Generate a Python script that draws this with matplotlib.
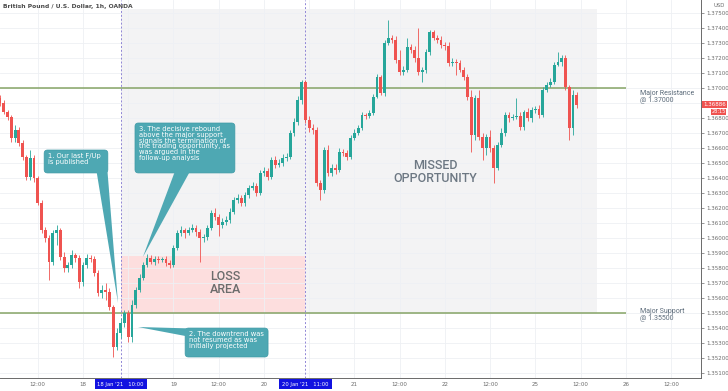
import numpy as np
import matplotlib
matplotlib.use('Agg')
import matplotlib.pyplot as plt
from matplotlib.patches import FancyBboxPatch, Polygon, Rectangle
from matplotlib.transforms import blended_transform_factory

# Data ---------------------------------------------------------------
# hour index on the chart's time axis (0 = Fri 15 Jan 2021 00:00, weekend removed)
hours = np.arange(2, 156)

opens = [1.36935, 1.36900, 1.36840, 1.36805, 1.36665, 1.36720, 1.36635, 1.36540, 1.36405, 1.36535,
         1.36400, 1.36235, 1.36055, 1.36000, 1.35840, 1.36035, 1.36055, 1.35875, 1.35800, 1.35820,
         1.35885, 1.35865, 1.35705, 1.35820, 1.35865, 1.35860, 1.35765, 1.35635, 1.35655, 1.35640,
         1.35540, 1.35275, 1.35365, 1.35435, 1.35500, 1.35340, 1.35555, 1.35655, 1.35735, 1.35820,
         1.35865, 1.35840, 1.35860, 1.35855, 1.35860, 1.35835, 1.35820, 1.35935, 1.36035, 1.36055,
         1.36035, 1.36055, 1.36065, 1.36040, 1.36000, 1.36005, 1.36065, 1.36165, 1.36140, 1.36085,
         1.36105, 1.36120, 1.36175, 1.36255, 1.36265, 1.36235, 1.36285, 1.36335, 1.36345, 1.36300,
         1.36435, 1.36445, 1.36405, 1.36520, 1.36485, 1.36500, 1.36535, 1.36540, 1.36700, 1.36775,
         1.36920, 1.37040, 1.36785, 1.36735, 1.36720, 1.36365, 1.36320, 1.36585, 1.36435, 1.36465,
         1.36455, 1.36575, 1.36565, 1.36540, 1.36665, 1.36700, 1.36735, 1.36820, 1.36815, 1.36835,
         1.36940, 1.37075, 1.36965, 1.37300, 1.37335, 1.37320, 1.37185, 1.37105, 1.37120, 1.37275,
         1.37255, 1.37200, 1.37105, 1.37120, 1.37240, 1.37375, 1.37335, 1.37320, 1.37285, 1.37280,
         1.37165, 1.37175, 1.37170, 1.37120, 1.37075, 1.36940, 1.36685, 1.36935, 1.36675, 1.36600,
         1.36675, 1.36600, 1.36465, 1.36620, 1.36700, 1.36820, 1.36800, 1.36805, 1.36815, 1.36740,
         1.36840, 1.36800, 1.36855, 1.36860, 1.36820, 1.36985, 1.37020, 1.37040, 1.37155, 1.37175,
         1.37200, 1.37005, 1.36735, 1.36955]

closes = [1.36900, 1.36840, 1.36805, 1.36665, 1.36720, 1.36635, 1.36540, 1.36405, 1.36535, 1.36400,
          1.36235, 1.36055, 1.36000, 1.35840, 1.36035, 1.36055, 1.35875, 1.35800, 1.35820, 1.35885,
          1.35865, 1.35705, 1.35820, 1.35865, 1.35860, 1.35765, 1.35635, 1.35655, 1.35640, 1.35540,
          1.35275, 1.35365, 1.35435, 1.35500, 1.35340, 1.35555, 1.35655, 1.35735, 1.35820, 1.35865,
          1.35840, 1.35860, 1.35855, 1.35860, 1.35835, 1.35820, 1.35935, 1.36035, 1.36055, 1.36035,
          1.36055, 1.36065, 1.36040, 1.36000, 1.36005, 1.36065, 1.36165, 1.36140, 1.36085, 1.36105,
          1.36120, 1.36175, 1.36255, 1.36265, 1.36235, 1.36285, 1.36335, 1.36345, 1.36300, 1.36435,
          1.36445, 1.36405, 1.36520, 1.36485, 1.36500, 1.36535, 1.36540, 1.36700, 1.36775, 1.36920,
          1.37040, 1.36785, 1.36735, 1.36720, 1.36365, 1.36320, 1.36585, 1.36435, 1.36465, 1.36455,
          1.36575, 1.36565, 1.36540, 1.36665, 1.36700, 1.36735, 1.36820, 1.36815, 1.36835, 1.36940,
          1.37075, 1.36965, 1.37300, 1.37335, 1.37320, 1.37185, 1.37105, 1.37120, 1.37275, 1.37255,
          1.37200, 1.37105, 1.37120, 1.37240, 1.37375, 1.37335, 1.37320, 1.37285, 1.37280, 1.37165,
          1.37175, 1.37170, 1.37120, 1.37075, 1.36940, 1.36685, 1.36935, 1.36675, 1.36600, 1.36675,
          1.36600, 1.36465, 1.36620, 1.36700, 1.36820, 1.36800, 1.36805, 1.36815, 1.36740, 1.36840,
          1.36800, 1.36855, 1.36860, 1.36820, 1.36985, 1.37020, 1.37040, 1.37155, 1.37175, 1.37200,
          1.37005, 1.36735, 1.36955, 1.36886]

highs = [1.36955, 1.36920, 1.36855, 1.36820, 1.36755, 1.36740, 1.36655, 1.36555, 1.36585, 1.36555,
         1.36415, 1.36255, 1.36075, 1.36020, 1.36055, 1.36085, 1.36065, 1.35905, 1.35840, 1.35920,
         1.35900, 1.35885, 1.35840, 1.35895, 1.35885, 1.35880, 1.35785, 1.35685, 1.35700, 1.35665,
         1.35555, 1.35400, 1.35465, 1.35520, 1.35520, 1.35585, 1.35675, 1.35760, 1.35840, 1.35895,
         1.35885, 1.35880, 1.35880, 1.35875, 1.35880, 1.35855, 1.35955, 1.36055, 1.36080, 1.36065,
         1.36075, 1.36095, 1.36085, 1.36060, 1.36025, 1.36085, 1.36185, 1.36200, 1.36160, 1.36135,
         1.36145, 1.36200, 1.36275, 1.36295, 1.36285, 1.36305, 1.36355, 1.36375, 1.36365, 1.36455,
         1.36475, 1.36465, 1.36540, 1.36545, 1.36525, 1.36560, 1.36565, 1.36720, 1.36800, 1.36945,
         1.37055, 1.37055, 1.36815, 1.36760, 1.36740, 1.36385, 1.36605, 1.36620, 1.36495, 1.36495,
         1.36600, 1.36595, 1.36585, 1.36685, 1.36725, 1.36755, 1.36840, 1.36835, 1.36855, 1.36960,
         1.37095, 1.37085, 1.37320, 1.37455, 1.37355, 1.37345, 1.37255, 1.37145, 1.37335, 1.37295,
         1.37280, 1.37400, 1.37140, 1.37260, 1.37385, 1.37385, 1.37355, 1.37345, 1.37305, 1.37305,
         1.37200, 1.37195, 1.37185, 1.37140, 1.37095, 1.36985, 1.36955, 1.36985, 1.36700, 1.36695,
         1.36720, 1.36620, 1.36640, 1.36735, 1.36840, 1.36840, 1.36825, 1.36935, 1.36840, 1.36855,
         1.36865, 1.36875, 1.36880, 1.36885, 1.37005, 1.37040, 1.37065, 1.37175, 1.37240, 1.37220,
         1.37220, 1.37020, 1.36985, 1.36975]

lows = [1.36880, 1.36825, 1.36785, 1.36640, 1.36640, 1.36615, 1.36520, 1.36385, 1.36385, 1.36375,
        1.36220, 1.36035, 1.35975, 1.35720, 1.35820, 1.35955, 1.35855, 1.35775, 1.35775, 1.35800,
        1.35840, 1.35665, 1.35680, 1.35800, 1.35840, 1.35745, 1.35615, 1.35600, 1.35585, 1.35520,
        1.35205, 1.35255, 1.35335, 1.35405, 1.35305, 1.35305, 1.35535, 1.35640, 1.35720, 1.35805,
        1.35825, 1.35820, 1.35835, 1.35840, 1.35815, 1.35800, 1.35805, 1.35920, 1.36015, 1.36000,
        1.36020, 1.36040, 1.36015, 1.35840, 1.35975, 1.35985, 1.36055, 1.36120, 1.36015, 1.36065,
        1.36085, 1.36100, 1.36160, 1.36235, 1.36215, 1.36215, 1.36265, 1.36320, 1.36280, 1.36285,
        1.36415, 1.36385, 1.36395, 1.36465, 1.36475, 1.36480, 1.36515, 1.36525, 1.36680, 1.36755,
        1.36895, 1.36765, 1.36705, 1.36695, 1.36345, 1.36255, 1.36300, 1.36415, 1.36415, 1.36425,
        1.36440, 1.36545, 1.36520, 1.36525, 1.36655, 1.36685, 1.36720, 1.36795, 1.36800, 1.36820,
        1.36935, 1.36955, 1.36945, 1.37285, 1.37300, 1.37165, 1.37085, 1.37085, 1.37105, 1.37235,
        1.37175, 1.37085, 1.37040, 1.37100, 1.37220, 1.37320, 1.37300, 1.37265, 1.37255, 1.37145,
        1.37145, 1.37085, 1.37105, 1.37055, 1.36920, 1.36575, 1.36655, 1.36655, 1.36520, 1.36555,
        1.36575, 1.36365, 1.36455, 1.36605, 1.36680, 1.36775, 1.36785, 1.36795, 1.36720, 1.36720,
        1.36780, 1.36775, 1.36835, 1.36800, 1.36805, 1.36975, 1.37005, 1.37025, 1.37145, 1.37145,
        1.36985, 1.36655, 1.36685, 1.36865]

tick_hours = [12, 24, 36, 48, 60, 72, 84, 96, 108, 120, 132, 144, 156, 168, 180]
tick_labels = ['12:00', '18', '12:00', '19', '12:00', '20', '12:00', '21', '12:00', '22',
               '12:00', '25', '12:00', '26', '12:00']
hidden_ticks = [36, 84]                 # covered by the date markers

marker_hours = [34, 83]
marker_labels = ["18 Jan '21   10:00", "20 Jan '21   11:00"]

resistance = 1.37000
support = 1.35500
loss_top = 1.35880
zone_top = 1.37527
zone_end = 160.3
level_end = 168.1
last_price = 1.36886

# Figure ---------------------------------------------------------------
GREEN = '#26a69a'
RED = '#ef5350'
TEAL = '#4ea8b3'

fig = plt.figure(figsize=(7.28, 3.91), dpi=100)
ax = fig.add_axes([0, 13 / 391, 701 / 728, 378 / 391])
ax.set_xlim(1.99, 187.95)
ax.set_ylim(1.35067, 1.37587)

# shaded zones
ax.add_patch(Rectangle((marker_hours[0], support), zone_end - marker_hours[0], zone_top - support,
                       fc='#f3f3f4', ec='none', zorder=0.2))
ax.add_patch(Rectangle((marker_hours[0], support), marker_hours[1] - marker_hours[0], loss_top - support,
                       fc='#fddede', ec='none', zorder=0.3))

# grid
yt = np.arange(1.351, 1.3755, 0.001)
ax.set_yticks(yt)
# the 1.36900 label sits under the live price tag
ax.set_yticklabels(['' if abs(v - 1.369) < 1e-6 else '%.5f' % v for v in yt])
ax.set_xticks(tick_hours)
ax.set_xticklabels(['' if h in hidden_ticks else l for h, l in zip(tick_hours, tick_labels)])
ax.grid(True, color='#eef0f4', lw=0.6)
ax.set_axisbelow(True)

# support / resistance
ax.hlines([resistance, support], 1.99, level_end, color='#86a466', lw=1.1, zorder=1)

# date markers
for h in marker_hours:
    ax.axvline(h, color='#8f86d6', lw=0.7, ls=(0, (2, 2)), zorder=1)

# candles
o = np.array(opens)
c = np.array(closes)
colors = [GREEN if cc >= oo else RED for oo, cc in zip(o, c)]
ax.vlines(hours, lows, highs, colors=colors, lw=0.6, zorder=3)
body = np.maximum(np.abs(c - o), 0.00003)
ax.bar(hours, body, bottom=np.minimum(o, c), width=0.74, color=colors, lw=0, zorder=3)

# text labels in the chart
ax.text(57.7, 1.3570, 'LOSS\nAREA', fontsize=9, family='Roboto', weight='medium',
        color='#6c6c6c', ha='left', va='center', linespacing=1.0, zorder=4)
ax.text(117.4, 1.3644, 'MISSED\nOPPORTUNITY', fontsize=9, family='Roboto', weight='medium',
        color='#6d7883', ha='center', va='center', linespacing=1.0, zorder=4)
ax.text(171.8, resistance - 0.0006, 'Major Resistance\n@ 1.37000', fontsize=5, family='Roboto',
        color='#5c6b7a', ha='left', va='center', linespacing=0.95, zorder=4)
ax.text(171.8, support - 0.00015, 'Major Support\n@ 1.35500', fontsize=5, family='Roboto',
        color='#5c6b7a', ha='left', va='center', linespacing=0.95, zorder=4)

# callouts
ASPECT = 3.77 / 15000


def callout(box, pointer, text):
    t0, p0, t1, p1 = box
    ax.add_patch(FancyBboxPatch((t0, p0), t1 - t0, p1 - p0,
                                boxstyle='round,pad=0,rounding_size=0.9',
                                mutation_aspect=ASPECT, fc=TEAL, ec='#3f9aa6', lw=0.5, zorder=5))
    ax.add_patch(Polygon(pointer, closed=True, fc=TEAL, ec='none', zorder=5))
    ax.text(t0 + 1.1, p1 - 0.0002, text, fontsize=4.9, color='white', ha='left', va='top',
            linespacing=0.95, zorder=6)


callout((13.7, 1.36434, 30.6, 1.36587),
        [(27.6, 1.36445), (30.5, 1.36445), (33.3, 1.35567)],
        '1. Our last F/Up\nis published')
callout((37.8, 1.36434, 64.3, 1.36767),
        [(48.4, 1.36445), (52.4, 1.36445), (39.9, 1.35874)],
        '3. The decisive rebound\nabove the major support\nsignals the termination of\n'
        'the trading opportunity, as\nwas argued in the\nfollow-up analysis')
callout((51.1, 1.35207, 73.1, 1.35400),
        [(38.6, 1.35407), (51.6, 1.35398), (51.6, 1.35345)],
        '2. The downtrend was\nnot resumed as was\ninitially projected')

# axes styling
for side in ['top', 'left']:
    ax.spines[side].set_visible(False)
ax.spines['right'].set_color('#6a6a6a')
ax.spines['bottom'].set_color('#6a6a6a')
ax.spines['right'].set_linewidth(0.7)
ax.spines['bottom'].set_linewidth(0.7)
ax.yaxis.tick_right()
ax.tick_params(axis='y', labelsize=4, labelcolor='#6a6a6a', color='#6a6a6a', length=2, width=0.5, pad=1.5)
ax.tick_params(axis='x', labelsize=4, labelcolor='#6a6a6a', length=0, pad=3)

trans = blended_transform_factory(ax.transData, ax.transAxes)
for h, lab in zip(marker_hours, marker_labels):
    ax.text(h, -0.016, lab, transform=trans, fontsize=3.8, color='white', ha='center', va='center',
            bbox=dict(boxstyle='square,pad=0.55', fc='#1212e0', ec='none'), clip_on=False, zorder=7)

ytrans = ax.get_yaxis_transform()
ax.text(1.003, last_price + 0.00006, '%.5f' % last_price, transform=ytrans, fontsize=4, color='white',
        ha='left', va='center', bbox=dict(boxstyle='square,pad=0.2', fc=RED, ec='none'),
        clip_on=False, zorder=7)
ax.text(1.015, 1.36842, '28:15', transform=ytrans, fontsize=3.6, color='white',
        ha='left', va='center', bbox=dict(boxstyle='square,pad=0.1', fc=RED, ec='none'),
        clip_on=False, zorder=7)
ax.text(1.018, 0.985, 'USD', transform=ax.transAxes, fontsize=3.8, color='#6a6a6a',
        ha='left', va='center', clip_on=False)

ax.text(0.004, 0.982, 'British Pound / U.S. Dollar, 1h, OANDA', transform=ax.transAxes,
        fontsize=4.3, weight='bold', color='#4a4a4a', ha='left', va='center', zorder=7)

fig.savefig('out.png', dpi=100, facecolor='white')
